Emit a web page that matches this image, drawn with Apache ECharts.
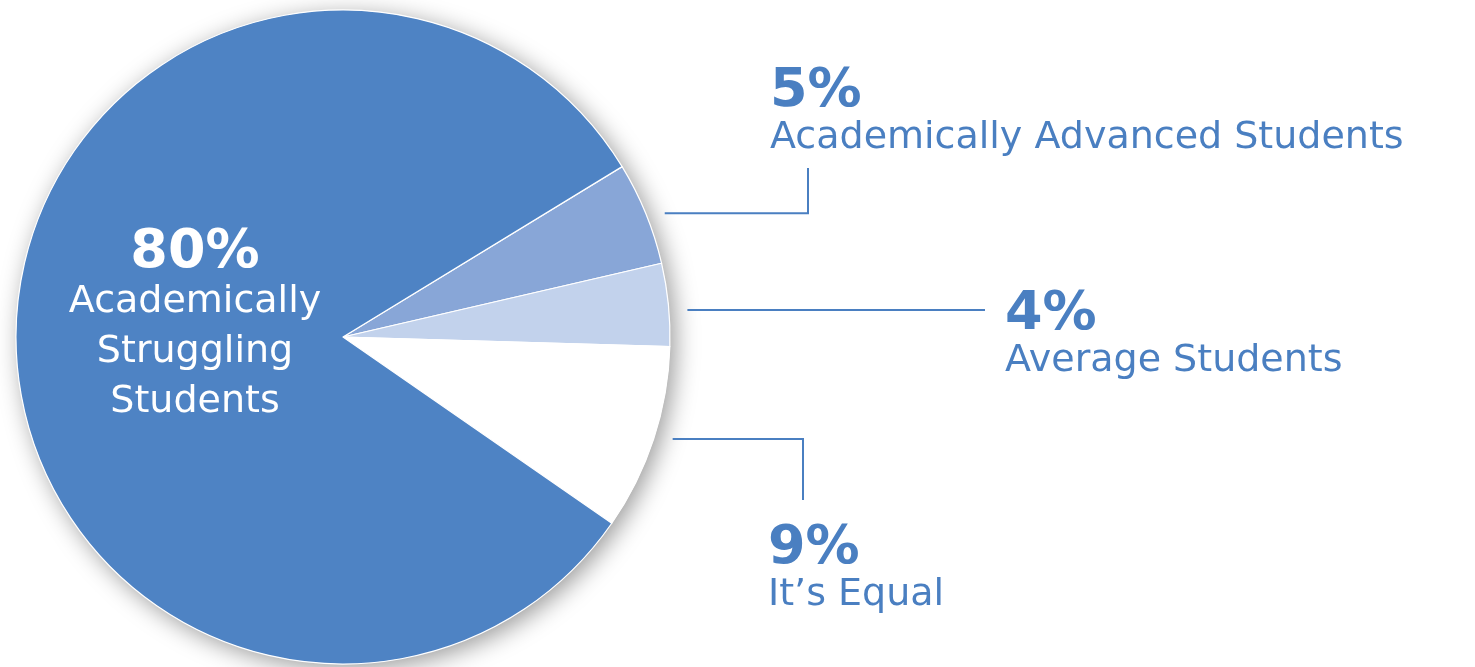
<!DOCTYPE html>
<html><head><meta charset="utf-8">
<script src="https://cdn.jsdelivr.net/npm/echarts@6/dist/echarts.min.js"></script>
<style>html,body{margin:0;padding:0;background:#fff}#c{width:1475px;height:667px}</style>
</head><body><div id="c"></div>
<script>
// ---- data ----
const categories = ['Academically Advanced Students', 'Average Students', 'It’s Equal', 'Academically Struggling Students'];
const values = [5, 4, 9, 80];
const percentLabels = ['5%', '4%', '9%', '80%'];

// ---- style / layout ----
const palette = ['#88a6d7', '#c2d2ec', '#ffffff', '#4e83c4'];
const textBlue = '#4a7fc1';
const FONT = 'DejaVu Sans';
const CX = 343, CY = 337, R = 327;
const START = 31.4;
const anchors = { 0: [770, 65], 1: [1005, 288], 2: [768, 522] };
const P_LH = 54, N_LH = 38;

const total = values.reduce((a, b) => a + b, 0);
function midAngle(i) {
  let cum = 0;
  for (let k = 0; k < i; k++) cum += values[k];
  return (START - (cum + values[i] / 2) / total * 360) * Math.PI / 180;
}

const chart = echarts.init(document.getElementById('c'), null, { renderer: 'canvas' });
chart.setOption({
  animation: false,
  backgroundColor: '#ffffff',
  series: [
    {
      type: 'pie', silent: true, center: [CX, CY], radius: R, z: 1,
      label: { show: false }, labelLine: { show: false },
      emphasis: { disabled: true },
      data: [{ value: 1, itemStyle: { color: '#ffffff', shadowBlur: 24, shadowColor: 'rgba(0,0,0,0.4)', shadowOffsetX: 5, shadowOffsetY: 5 } }]
    },
    {
      type: 'pie', center: [CX, CY], radius: R, z: 2,
      startAngle: START, clockwise: true,
      avoidLabelOverlap: false,
      emphasis: { disabled: true },
      itemStyle: { borderColor: '#ffffff', borderWidth: 1.2 },
      label: {
        show: true, position: 'outside',
        formatter: function (p) {
          const i = p.dataIndex;
          if (i === 3) {
            return '{pw|' + percentLabels[i] + '}\n' + categories[i].split(' ').map(w => '{nw|' + w + '}').join('\n');
          }
          return '{p|' + percentLabels[i] + '}\n{n|' + categories[i] + '}';
        },
        rich: {
          p: { fontFamily: FONT, fontWeight: 'bold', fontSize: 54, lineHeight: P_LH, color: textBlue },
          n: { fontFamily: FONT, fontSize: 38, lineHeight: N_LH, color: textBlue },
          pw: { fontFamily: FONT, fontWeight: 'bold', fontSize: 54, lineHeight: 48, color: '#ffffff', align: 'center' },
          nw: { fontFamily: FONT, fontSize: 38, lineHeight: 50, color: '#ffffff', align: 'center' }
        }
      },
      labelLine: { show: true, lineStyle: { color: textBlue, width: 2 } },
      labelLayout: function (params) {
        const i = params.dataIndex;
        if (i === 3) {
          return { x: 195, y: 328, align: 'center', verticalAlign: 'middle' };
        }
        const a = anchors[i];
        const ang = midAngle(i);
        const ex = CX + R * Math.cos(ang) + 19;
        let ey = CY - R * Math.sin(ang);
        let pts;
        if (i === 0) {
          const vx = a[0] + 38;
          pts = [[ex, ey], [vx, ey], [vx, a[1] + P_LH + N_LH + 11]];
        } else if (i === 1) {
          ey = a[1] + 22;
          pts = [[ex, ey], [a[0] - 20, ey], [a[0] - 20, ey]];
        } else {
          const vx = a[0] + 35;
          pts = [[ex, ey], [vx, ey], [vx, a[1] - 22]];
        }
        return { x: a[0], y: a[1], align: 'left', verticalAlign: 'top', labelLinePoints: pts };
      },
      data: values.map((v, i) => ({
        name: categories[i], value: v,
        itemStyle: { color: palette[i] },
        label: i === 3 ? { position: 'inside' } : undefined,
        labelLine: i === 3 ? { show: false } : undefined
      }))
    }
  ]
});
</script></body></html>
